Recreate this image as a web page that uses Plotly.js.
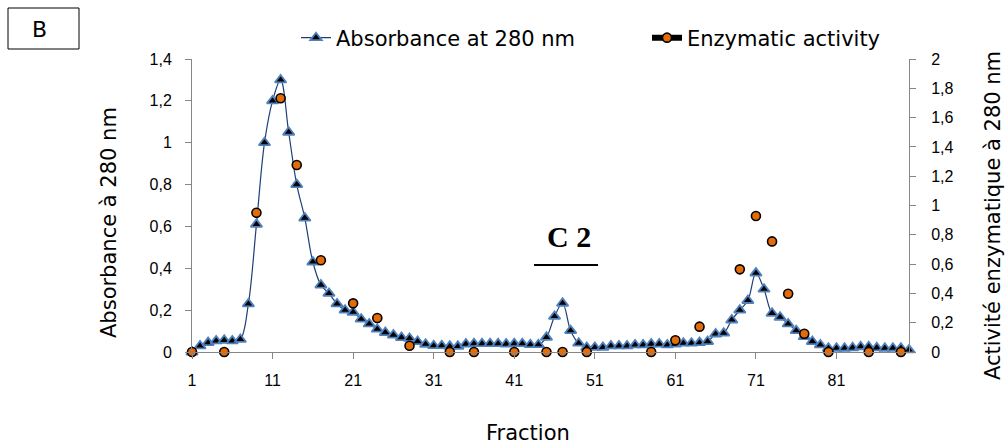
<!DOCTYPE html>
<html>
<head>
<meta charset="utf-8">
<script src="https://cdn.plot.ly/plotly-3.0.1.min.js"></script>
<style>html,body{margin:0;padding:0;background:#fff;}#chart{width:1005px;height:446px;}</style>
</head>
<body>
<div id="chart"></div>
<script>
var fractions = [1,2,3,4,5,6,7,8,9,10,11,12,13,14,15,16,17,18,19,20,21,22,23,24,25,26,27,28,29,30,31,32,33,34,35,36,37,38,39,40,41,42,43,44,45,46,47,48,49,50,51,52,53,54,55,56,57,58,59,60,61,62,63,64,65,66,67,68,69,70,71,72,73,74,75,76,77,78,79,80,81,82,83,84,85,86,87,88,89,90];
var absorbance = [0.00,0.029,0.045,0.053,0.056,0.053,0.06,0.23,0.61,1.00,1.20,1.30,1.05,0.80,0.64,0.43,0.32,0.28,0.23,0.20,
  0.19,0.157,0.134,0.109,0.093,0.081,0.069,0.065,0.05,0.037,0.03,0.03,0.027,0.027,0.038,0.04,0.04,0.04,0.04,0.038,
  0.04,0.04,0.035,0.035,0.07,0.17,0.233,0.102,0.042,0.022,0.022,0.022,0.029,0.029,0.029,0.034,0.034,0.038,0.038,0.034,
  0.038,0.042,0.042,0.045,0.05,0.086,0.09,0.153,0.20,0.246,0.377,0.30,0.185,0.166,0.134,0.102,0.073,0.05,0.034,0.018,
  0.018,0.018,0.02,0.025,0.025,0.02,0.018,0.018,0.018,0.01];
var activity = [0,null,null,null,0,null,null,null,0.951,null,null,1.732,null,1.276,null,null,0.626,null,null,null,
  0.332,null,null,0.232,null,null,null,0.043,null,null,null,null,0,null,null,0,null,null,null,null,
  0,null,null,null,0,null,0,null,null,0,null,null,null,null,null,null,null,0,null,null,
  0.08,null,null,0.173,null,null,null,null,0.564,null,0.928,null,0.755,null,0.398,null,0.125,null,null,0,
  null,null,null,null,0,null,null,null,0,null];
var xTickVals = [1,11,21,31,41,51,61,71,81];
var xTickText = ['1','11','21','31','41','51','61','71','81'];
var seriesNames = ['Absorbance at 280 nm','Enzymatic activity'];

var L = 192, R = 909, T = 59, B = 352;
function px(x){ return (x - L) / (R - L); }
function py(y){ return (B - y) / (B - T); }

var axisCol = '#868686';
var tickFont = {family: 'Liberation Sans, Arial, sans-serif', size: 16, color: '#000'};
var titleFont = {family: 'DejaVu Sans, Verdana, sans-serif', size: 21, color: '#000'};

var traces = [
  {
    x: fractions, y: absorbance, name: seriesNames[0], type: 'scatter', mode: 'lines+markers',
    line: {color: '#1F3F7A', width: 1.2, shape: 'spline', smoothing: 1},
    marker: {symbol: 'triangle-up', size: 10, color: '#000', line: {color: '#4F81BD', width: 1.8}},
    cliponaxis: false, legend: 'legend'
  },
  {
    x: fractions, y: activity, name: seriesNames[1], type: 'scatter', mode: 'lines+markers',
    yaxis: 'y2', connectgaps: false,
    line: {color: '#000', width: 6},
    marker: {symbol: 'circle', size: 9, color: '#E36C09', line: {color: '#000', width: 1.6}},
    cliponaxis: false, legend: 'legend2'
  }
];

var layout = {
  width: 1005, height: 446,
  margin: {l: L, r: 1005 - R, t: T, b: 446 - B, pad: 0},
  paper_bgcolor: '#fff', plot_bgcolor: '#fff',
  separators: ', ',
  showlegend: true,
  xaxis: {
    range: [1, 90], tickmode: 'array', tickvals: xTickVals, ticktext: xTickText,
    showline: true, linecolor: axisCol, linewidth: 1, ticks: 'outside', ticklen: 6, tickcolor: axisCol,
    showgrid: false, zeroline: false, tickfont: tickFont, ticklabelstandoff: 8
  },
  yaxis: {
    range: [0, 1.4], tick0: 0, dtick: 0.2,
    showline: true, linecolor: axisCol, linewidth: 1, ticks: 'outside', ticklen: 6, tickcolor: axisCol,
    showgrid: false, zeroline: false, tickfont: tickFont, ticklabelstandoff: 10
  },
  yaxis2: {
    range: [0, 2], tick0: 0, dtick: 0.2, overlaying: 'y', side: 'right',
    showline: true, linecolor: axisCol, linewidth: 1, ticks: 'outside', ticklen: 6, tickcolor: axisCol,
    showgrid: false, zeroline: false, tickfont: tickFont, ticklabelstandoff: 12
  },
  legend: {
    orientation: 'h', x: px(296), xanchor: 'left', y: py(38), yanchor: 'middle',
    font: titleFont, bgcolor: 'rgba(0,0,0,0)', borderwidth: 0
  },
  legend2: {
    orientation: 'h', x: px(647), xanchor: 'left', y: py(38), yanchor: 'middle',
    font: titleFont, bgcolor: 'rgba(0,0,0,0)', borderwidth: 0
  },
  shapes: [
    {type: 'rect', xref: 'paper', yref: 'paper', x0: px(8), x1: px(79), y0: py(49), y1: py(8),
     line: {color: '#000', width: 1}, fillcolor: 'rgba(0,0,0,0)'},
    {type: 'line', xref: 'paper', yref: 'paper', x0: px(534), x1: px(598), y0: py(265), y1: py(265),
     line: {color: '#000', width: 2}}
  ],
  annotations: [
    {text: 'B', xref: 'paper', yref: 'paper', x: px(39.5), y: py(29), xanchor: 'center', yanchor: 'middle',
     showarrow: false, font: {family: 'DejaVu Sans, Verdana, sans-serif', size: 22, color: '#000'}},
    {text: '<b>C 2</b>', xref: 'paper', yref: 'paper', x: px(569), y: py(237), xanchor: 'center', yanchor: 'middle',
     showarrow: false, font: {family: 'Liberation Serif, Times New Roman, serif', size: 30, color: '#000'}},
    {text: 'Absorbance à 280 nm', xref: 'paper', yref: 'paper', x: px(109), y: py(223), xanchor: 'center', yanchor: 'middle',
     textangle: -90, showarrow: false, font: titleFont},
    {text: 'Activité enzymatique à 280 nm', xref: 'paper', yref: 'paper', x: px(993), y: py(216), xanchor: 'center', yanchor: 'middle',
     textangle: -90, showarrow: false, font: titleFont},
    {text: 'Fraction', xref: 'paper', yref: 'paper', x: px(528), y: py(433), xanchor: 'center', yanchor: 'middle',
     showarrow: false, font: titleFont}
  ]
};

Plotly.newPlot('chart', traces, layout, {displayModeBar: false, staticPlot: true});
</script>
</body>
</html>
